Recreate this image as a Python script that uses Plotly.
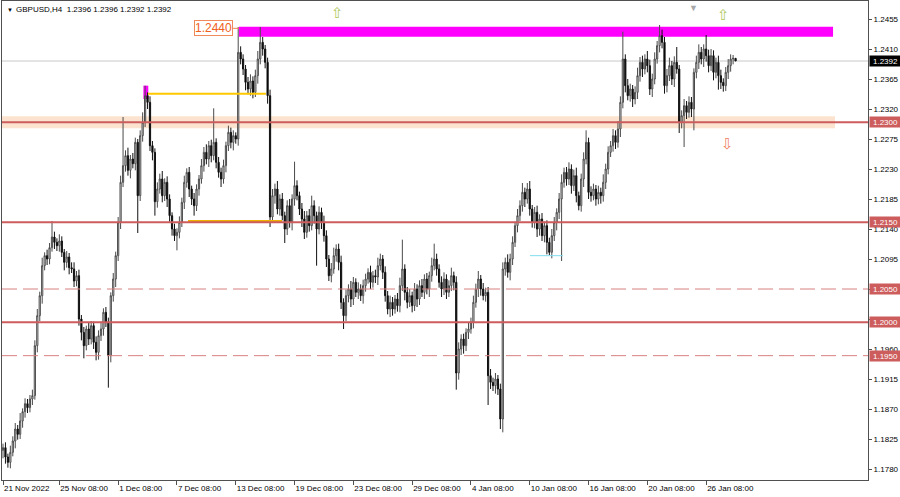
import plotly.graph_objects as go

# ---------------- data ----------------
symbol = "GBPUSD,H4"
header_prices = [1.2396, 1.2396, 1.2392, 1.2392]
first_open = 1.1808

closes = [
    1.1812, 1.1798, 1.1790, 1.1805, 1.1822, 1.1840, 1.1832, 1.1852, 1.1866, 1.1878,
    1.1872, 1.1885, 1.1890, 1.1965, 1.2010, 1.2040, 1.2085, 1.2100, 1.2095, 1.2112,
    1.2128, 1.2120, 1.2115, 1.2122, 1.2105, 1.2090, 1.2098, 1.2082, 1.2080, 1.2062,
    1.2070, 1.2005, 1.1985, 1.1965, 1.1990, 1.1975, 1.1995, 1.1970, 1.1955, 1.1980,
    1.1990, 1.2015, 1.2000, 1.1950, 1.2040, 1.2065, 1.2100, 1.2150, 1.2210, 1.2235,
    1.2250, 1.2228, 1.2245, 1.2238, 1.2270, 1.2190, 1.2280, 1.2300, 1.2340, 1.2330,
    1.2265, 1.2255, 1.2181, 1.2200, 1.2215, 1.2190, 1.2210, 1.2185, 1.2160, 1.2140,
    1.2130, 1.2135, 1.2150, 1.2180, 1.2210, 1.2225, 1.2200, 1.2185, 1.2175, 1.2200,
    1.2215, 1.2235, 1.2255, 1.2245, 1.2265, 1.2250, 1.2270, 1.2240, 1.2225, 1.2215,
    1.2235, 1.2265, 1.2285, 1.2270, 1.2280, 1.2275, 1.2405, 1.2395, 1.2380, 1.2360,
    1.2350, 1.2362, 1.2345, 1.2370, 1.2395, 1.2420, 1.2410, 1.2390, 1.2340, 1.2158,
    1.2190, 1.2200, 1.2170, 1.2185, 1.2160, 1.2140, 1.2175, 1.2150, 1.2185, 1.2205,
    1.2190, 1.2170, 1.2155, 1.2135, 1.2160, 1.2145, 1.2175, 1.2160, 1.2140, 1.2165,
    1.2150, 1.2130, 1.2095, 1.2070, 1.2080, 1.2100, 1.2110, 1.2090, 1.2030, 1.2010,
    1.2040, 1.2050, 1.2035, 1.2060, 1.2045, 1.2050, 1.2040, 1.2055, 1.2065, 1.2075,
    1.2060, 1.2070, 1.2068, 1.2085, 1.2095, 1.2075, 1.2040, 1.2020, 1.2030, 1.2020,
    1.2035, 1.2025, 1.2055, 1.2080, 1.2045, 1.2030, 1.2040, 1.2025, 1.2050, 1.2035,
    1.2055, 1.2045, 1.2065, 1.2050, 1.2070, 1.2085, 1.2095, 1.2080, 1.2060, 1.2050,
    1.2065, 1.2045, 1.2055, 1.2070, 1.2060, 1.1924, 1.1960, 1.1975, 1.1965, 1.1985,
    1.1990, 1.2000, 1.2030, 1.2050, 1.2065, 1.2050, 1.2040, 1.2045, 1.1920, 1.1910,
    1.1905, 1.1915, 1.1900, 1.1855, 1.2080, 1.2090, 1.2075, 1.2095, 1.2120, 1.2145,
    1.2160, 1.2175, 1.2195, 1.2185, 1.2200, 1.2170, 1.2150, 1.2165, 1.2140, 1.2155,
    1.2130, 1.2145, 1.2120, 1.2105, 1.2130, 1.2150, 1.2165, 1.2185, 1.2210, 1.2225,
    1.2215, 1.2230, 1.2205, 1.2220, 1.2190, 1.2175, 1.2215, 1.2245, 1.2270, 1.2195,
    1.2190, 1.2200, 1.2185, 1.2195, 1.2190, 1.2210, 1.2230, 1.2255, 1.2265, 1.2280,
    1.2270, 1.2290, 1.2330, 1.2395, 1.2355, 1.2340, 1.2350, 1.2335, 1.2345, 1.2370,
    1.2390, 1.2380, 1.2395, 1.2385, 1.2350, 1.2365, 1.2395, 1.2415, 1.2430, 1.2420,
    1.2355, 1.2370, 1.2385, 1.2365, 1.2390, 1.2380, 1.2300, 1.2310, 1.2325, 1.2315,
    1.2330, 1.2320, 1.2375, 1.2390, 1.2405, 1.2395, 1.2410, 1.2400, 1.2385, 1.2400,
    1.2375, 1.2390, 1.2370, 1.2360, 1.2355, 1.2375, 1.2385, 1.2395, 1.2396, 1.2392,
]

wick_up_pips = [
    6, 8, 5, 10, 7, 9, 6, 12, 5, 8,
    7, 6, 9, 8, 10, 6, 12, 5, 9, 7,
    24, 8, 6, 10, 7, 5, 9, 6, 8, 10,
    7, 9, 6, 8, 5, 10, 7, 6, 9, 8,
    11, 6, 8, 7, 5, 9, 6, 8, 10, 73,
    8, 12, 6, 9, 7, 5, 8, 15, 15, 5,
    9, 7, 6, 10, 8, 12, 6, 9, 7, 5,
    8, 6, 9, 7, 10, 6, 8, 5, 9, 7,
    6, 10, 8, 12, 7, 9, 51, 6, 8, 7,
    9, 6, 10, 7, 8, 5, 38, 9, 7, 6,
    8, 10, 7, 9, 12, 23, 8, 6, 7, 9,
    10, 8, 12, 7, 9, 6, 8, 10, 7, 36,
    8, 6, 9, 12, 7, 10, 15, 8, 6, 9,
    7, 10, 8, 6, 9, 12, 7, 8, 10, 6,
    9, 7, 12, 8, 6, 10, 7, 9, 8, 6,
    10, 7, 9, 12, 8, 6, 9, 7, 10, 8,
    6, 9, 12, 44, 7, 8, 10, 6, 9, 7,
    8, 10, 7, 9, 6, 12, 23, 8, 7, 9,
    10, 7, 8, 12, 6, 9, 10, 7, 8, 6,
    9, 7, 10, 8, 12, 6, 9, 7, 8, 10,
    7, 9, 6, 8, 10, 7, 12, 8, 9, 6,
    10, 8, 14, 7, 9, 12, 6, 8, 10, 7,
    9, 6, 8, 7, 10, 8, 6, 9, 12, 7,
    8, 10, 7, 9, 12, 6, 8, 10, 18, 7,
    9, 8, 6, 10, 7, 12, 8, 9, 7, 10,
    8, 12, 9, 41, 7, 10, 8, 6, 9, 12,
    8, 10, 7, 12, 9, 8, 10, 7, 16, 9,
    8, 10, 12, 7, 9, 23, 6, 8, 10, 7,
    9, 8, 6, 10, 12, 8, 7, 21, 9, 10,
    8, 7, 10, 9, 6, 8, 10, 7, 5, 0,
]

wick_down_pips = [
    12, 10, 8, 9, 6, 11, 8, 7, 10, 9,
    8, 7, 9, 6, 10, 8, 12, 7, 9, 8,
    6, 10, 8, 9, 7, 12, 8, 10, 6, 9,
    8, 10, 12, 19, 7, 9, 8, 10, 12, 11,
    8, 10, 7, 48, 10, 9, 12, 8, 10, 7,
    9, 8, 12, 7, 10, 56, 8, 9, 7, 10,
    8, 12, 21, 9, 7, 10, 8, 12, 9, 10,
    8, 22, 9, 7, 10, 8, 12, 9, 15, 8,
    10, 7, 9, 8, 12, 10, 7, 9, 8, 12,
    7, 10, 8, 9, 12, 7, 10, 8, 9, 12,
    8, 10, 9, 7, 12, 8, 10, 9, 12, 15,
    9, 12, 8, 10, 7, 21, 9, 8, 12, 10,
    7, 9, 12, 10, 8, 9, 7, 12, 55, 8,
    10, 9, 12, 8, 10, 7, 9, 12, 10, 20,
    8, 10, 12, 9, 7, 10, 8, 12, 9, 7,
    10, 8, 9, 12, 7, 10, 9, 8, 12, 10,
    7, 9, 10, 8, 12, 9, 7, 10, 8, 12,
    9, 7, 10, 8, 12, 9, 7, 10, 8, 12,
    9, 10, 7, 8, 12, 25, 10, 9, 12, 8,
    10, 7, 9, 8, 12, 10, 7, 9, 44, 10,
    8, 12, 9, 15, 20, 10, 8, 12, 9, 7,
    10, 8, 9, 12, 7, 10, 8, 9, 12, 10,
    8, 10, 18, 4, 9, 8, 12, 10, 93, 8,
    10, 9, 12, 8, 10, 7, 9, 12, 8, 10,
    9, 7, 10, 8, 12, 9, 10, 8, 7, 9,
    10, 8, 12, 9, 10, 7, 9, 12, 8, 10,
    9, 12, 8, 10, 9, 12, 8, 7, 10, 9,
    12, 10, 8, 9, 12, 7, 16, 9, 47, 10,
    8, 12, 32, 9, 10, 8, 12, 9, 10, 8,
    12, 9, 21, 10, 9, 8, 10, 9, 8, 0,
]

x_tick_labels = ["21 Nov 2022", "25 Nov 08:00", "1 Dec 08:00", "7 Dec 08:00",
                 "13 Dec 08:00", "19 Dec 08:00", "23 Dec 08:00", "29 Dec 08:00",
                 "4 Jan 08:00", "10 Jan 08:00", "16 Jan 08:00", "20 Jan 08:00",
                 "26 Jan 08:00"]
y_tick_values = [1.1780, 1.1825, 1.1870, 1.1915, 1.1960, 1.2005, 1.2050, 1.2095,
                 1.2140, 1.2185, 1.2230, 1.2275, 1.2320, 1.2365, 1.2410, 1.2455]
level_lines = [1.2300, 1.2150, 1.2050, 1.2000, 1.1950]
level_dashed = [False, False, True, False, True]
current_price = 1.2392
resistance_zone = [1.24285, 1.24435]
resistance_label = "1.2440"
resistance_label_price = 1.2441
support_band = [1.2291, 1.2309]
dec_high_zone = [1.2335, 1.2355]
yellow_levels = [1.2343, 1.2152]
cyan_level = 1.2100

# ---------------- build ----------------
n = len(closes)
idx = list(range(n))
opens = [first_open] + closes[:-1]
highs = [max(o, c) + u / 10000 for o, c, u in zip(opens, closes, wick_up_pips)]
lows = [min(o, c) - d / 10000 for o, c, d in zip(opens, closes, wick_down_pips)]

FONT = "Liberation Sans, Arial, sans-serif"
RED = "#cd5c5c"
X_RANGE = [-0.41, 353.06]
Y_RANGE = [1.17635, 1.2482]
tick_idx = [0] + [23 + 24 * k for k in range(len(x_tick_labels) - 1)]
zone_end = 338.8

fig = go.Figure()
fig.add_trace(go.Candlestick(
    x=idx, open=opens, high=highs, low=lows, close=closes,
    increasing=dict(line=dict(color="#4a4a4a", width=1), fillcolor="white"),
    decreasing=dict(line=dict(color="#111111", width=1), fillcolor="black"),
    whiskerwidth=0, hoverinfo="skip", showlegend=False,
))

shapes = []
shapes.append(dict(type="rect", xref="x", yref="y", x0=X_RANGE[0], x1=339.6,
                   y0=support_band[0], y1=support_band[1], fillcolor="#fbe3cf",
                   line=dict(width=0), layer="below"))
shapes.append(dict(type="rect", xref="x", yref="y", x0=96.3, x1=zone_end,
                   y0=resistance_zone[0], y1=resistance_zone[1], fillcolor="#ff00ff",
                   line=dict(width=0), layer="below"))
shapes.append(dict(type="rect", xref="x", yref="y", x0=57.3, x1=59.3,
                   y0=dec_high_zone[0], y1=dec_high_zone[1], fillcolor="#ff00ff",
                   line=dict(width=0), layer="below"))
shapes.append(dict(type="line", xref="paper", yref="y", x0=0, x1=1,
                   y0=current_price, y1=current_price,
                   line=dict(color="#c8c8c8", width=1), layer="below"))
shapes.append(dict(type="line", xref="x", yref="y", x0=59.2, x1=107.3,
                   y0=yellow_levels[0], y1=yellow_levels[0],
                   line=dict(color="#ffc800", width=2)))
shapes.append(dict(type="line", xref="x", yref="y", x0=75.5, x1=113.9,
                   y0=yellow_levels[1], y1=yellow_levels[1],
                   line=dict(color="#f0b000", width=2)))
shapes.append(dict(type="line", xref="x", yref="y", x0=215.1, x1=228.6,
                   y0=cyan_level, y1=cyan_level,
                   line=dict(color="#80dcef", width=1)))
for lv, dashed in zip(level_lines, level_dashed):
    shapes.append(dict(type="line", xref="paper", yref="y", x0=0, x1=1, y0=lv, y1=lv,
                       line=dict(color=RED if not dashed else "#d98080",
                                 width=1 if dashed else 2,
                                 dash="15px,6px" if dashed else "solid")))
shapes.append(dict(type="line", xref="x", yref="y", x0=93.9, x1=96.3,
                   y0=resistance_label_price, y1=resistance_label_price,
                   line=dict(color="#f08050", width=1)))

annotations = []
annotations.append(dict(xref="paper", yref="paper", x=0, y=1, xanchor="left", yanchor="top",
                        xshift=3, yshift=-4, showarrow=False,
                        text="▼", font=dict(family=FONT, size=6, color="black")))
annotations.append(dict(xref="paper", yref="paper", x=0, y=1, xanchor="left", yanchor="top",
                        xshift=12, yshift=-2, showarrow=False,
                        text=symbol + "  " + " ".join(f"{p:.4f}" for p in header_prices),
                        font=dict(family=FONT, size=8, color="black")))
annotations.append(dict(xref="x", yref="y", x=93.9, y=resistance_label_price,
                        xanchor="right", yanchor="middle", showarrow=False,
                        text=resistance_label, bgcolor="white", bordercolor="#f08a5a",
                        borderwidth=1, borderpad=0,
                        font=dict(family="Liberation Sans, Arial", size=12, color="#f06020")))
annotations.append(dict(xref="x", yref="y", x=136.7, y=1.2464, showarrow=False, text="⇧",
                        font=dict(family="DejaVu Sans", size=15, color="#b0c860")))
annotations.append(dict(xref="x", yref="y", x=293.9, y=1.2461, showarrow=False, text="⇧",
                        font=dict(family="DejaVu Sans", size=15, color="#b0c860")))
annotations.append(dict(xref="x", yref="y", x=295.9, y=1.22675, showarrow=False, text="⇩",
                        font=dict(family="DejaVu Sans", size=15, color="#f08060")))
annotations.append(dict(xref="x", yref="paper", x=282, y=1, yanchor="top", yshift=2,
                        showarrow=False, text="▼", font=dict(size=9, color="#a8a8a8")))
for lv in level_lines:
    annotations.append(dict(xref="paper", yref="y", x=1, y=lv, xanchor="left", yanchor="middle",
                            xshift=1, showarrow=False, text=f"{lv:.4f}", bgcolor=RED,
                            width=31, height=10, borderpad=0, align="center",
                            font=dict(family=FONT, size=8, color="white")))
annotations.append(dict(xref="paper", yref="y", x=1, y=current_price, xanchor="left",
                        yanchor="middle", xshift=1, showarrow=False, text=f"{current_price:.4f}",
                        bgcolor="black", width=31, height=10, borderpad=0, align="center",
                        font=dict(family=FONT, size=8, color="white")))

fig.update_layout(
    width=900, height=497, autosize=False,
    margin=dict(l=2, r=32, t=1, b=17),
    paper_bgcolor="white", plot_bgcolor="white",
    shapes=shapes, annotations=annotations,
    showlegend=False,
    xaxis=dict(range=X_RANGE, type="linear", rangeslider=dict(visible=False),
               showgrid=False, zeroline=False, showline=True, mirror=True,
               linecolor="#505050", linewidth=1, automargin=False,
               ticks="outside", ticklen=4, tickcolor="#505050", tickangle=0,
               tickvals=tick_idx, ticktext=x_tick_labels,
               ticklabelposition="outside right",
               tickfont=dict(family=FONT, size=8, color="black")),
    yaxis=dict(range=Y_RANGE, side="right", showgrid=False, zeroline=False,
               showline=True, mirror=True, linecolor="#505050", linewidth=1,
               automargin=False,
               ticks="outside", ticklen=3, tickcolor="#505050",
               tickvals=y_tick_values, ticktext=[f"{v:.4f}" for v in y_tick_values],
               tickfont=dict(family=FONT, size=8, color="black")),
)

fig.write_html("out.html", config={"displayModeBar": False})
with open("out.html", "r", encoding="utf-8") as f:
    html = f.read()
html = html.replace("<head>", "<head><style>html,body{margin:0;padding:0;overflow:hidden;}</style>", 1)
with open("out.html", "w", encoding="utf-8") as f:
    f.write(html)
